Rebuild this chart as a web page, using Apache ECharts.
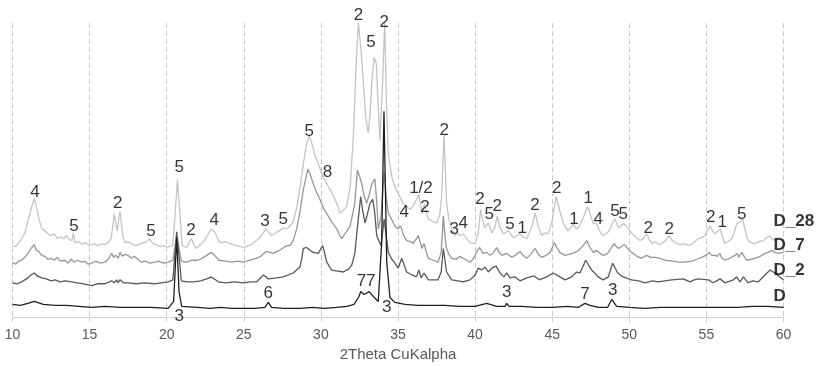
<!DOCTYPE html>
<html>
<head>
<meta charset="utf-8">
<script src="https://cdn.jsdelivr.net/npm/echarts@6/dist/echarts.min.js"></script>
<style>
html,body{margin:0;padding:0;background:#fff;}
#chart{width:822px;height:367px;}
</style>
</head>
<body>
<div id="chart"></div>
<script>
// x tick labels
const xTicks = [10, 15, 20, 25, 30, 35, 40, 45, 50, 55, 60];

// series names (top to bottom)
const seriesNames = ['D_28', 'D_7', 'D_2', 'D'];

// intensity traces (2theta, relative intensity, offset stacked)
const dataD28 = [
[10,73],[10.2,72],[10.4,76],[10.6,80],[10.8,86],[11.0,98],[11.2,110],[11.41,121],[11.55,113],[11.7,101],
[11.9,90],[12.1,88],[12.3,85],[12.5,83],[12.7,85],[12.9,80],[13.1,82],[13.3,80],[13.5,83],[13.7,79],
[13.85,78],[13.95,86],[14.05,76],[14.3,77],[14.5,74],[14.7,76],[15.0,73],[15.3,75],[15.5,73],[15.8,75],
[16.0,74],[16.2,76],[16.4,80],[16.6,105],[16.78,88],[16.97,108],[17.15,83],[17.3,76],[17.5,77],[17.8,74],
[18.0,73],[18.3,75],[18.5,76],[18.7,77],[18.9,80],[19.1,75],[19.3,74],[19.6,72],[19.8,73],[20.0,71],
[20.4,73],[20.7,140],[21.0,73],[21.3,71],[21.6,80],[21.9,70],[22.2,74],[22.4,77],[22.7,85],[22.9,90],[23.1,87],[23.45,76],
[23.8,77],[24.1,75],[24.5,73],[24.8,72],[25.0,71],[25.3,73],[25.5,74],[25.8,78],[26.1,82],[26.44,90],[26.8,83],[27.0,85],[27.2,87],[27.4,89],[27.6,91],[27.8,90],[28.0,93],
[28.2,97],[28.43,111],[28.7,138],[28.86,156],[29.05,175],[29.25,185],[29.4,178],[29.6,166],[29.8,158],[30.05,146],[30.25,140],[30.5,133],[30.8,124],[31.03,116],[31.25,106],
[31.45,109],[31.67,113],[31.9,133],[32.1,183],[32.3,263],[32.43,300],[32.6,273],[32.75,240],[32.9,205],[33.07,188],[33.2,210],[33.3,240],[33.45,265],
[33.6,258],[33.7,220],[33.83,180],[34.0,240],[34.14,301],[34.25,220],[34.37,166],[34.6,143],[34.8,133],[35.02,126],[35.2,120],[35.35,116],[35.6,112],[35.8,110],[36.0,114],[36.2,120],[36.35,125],
[36.55,106],[36.7,115],[36.97,100],[37.2,98],[37.5,96],[37.7,104],[37.83,123],[37.98,187],[38.15,116],[38.3,100],[38.48,90],[38.7,83],[38.85,86],[39.0,83],
[39.23,85],[39.45,80],[39.67,76],[40.0,75],[40.2,85],[40.36,110],[40.5,98],[40.64,91],[40.86,96],[41.08,86],[41.25,90],[41.44,103],[41.6,92],[41.83,85],
[42.15,88],[42.48,81],[42.7,83],[42.91,85],[43.1,82],[43.35,80],[43.7,93],[43.9,106],[44.1,92],[44.32,83],[44.5,86],[44.75,85],[45.0,98],[45.25,123],
[45.5,108],[45.72,96],[46.0,88],[46.2,91],[46.37,95],[46.55,90],[46.7,91],[47.0,101],[47.3,113],[47.5,103],[47.67,95],[47.85,96],[47.99,91],[48.15,86],[48.3,83],
[48.5,85],[48.7,88],[48.9,96],[49.07,100],[49.2,95],[49.33,91],[49.5,94],[49.68,95],[49.9,91],[50.15,86],[50.4,82],[50.7,78],[50.9,80],[51.13,85],[51.3,79],[51.45,75],[51.7,77],[51.9,74],[52.1,75],
[52.35,78],[52.58,83],[52.75,79],[52.96,76],[53.3,74],[53.6,75],[53.83,73],[54.1,75],[54.48,80],[54.7,81],[54.9,83],[55.05,88],[55.23,93],[55.4,88],[55.55,85],[55.7,87],[55.88,90],[56.05,82],[56.2,75],
[56.4,77],[56.64,80],[56.8,86],[56.96,95],[57.15,97],[57.35,100],[57.5,90],[57.7,78],[57.9,76],[58.15,75],[58.4,77],[58.7,78],[58.9,81],[59.08,83],[59.25,80],[59.45,78],[59.7,81],[59.9,80],[60.0,78]
];
const dataD7 = [
[10,56],[10.2,54],[10.4,57],[10.6,58],[10.8,61],[11.0,65],[11.2,70],[11.41,74],[11.55,68],[11.7,67],
[11.9,63],[12.1,62],[12.3,59],[12.5,60],[12.7,58],[12.9,61],[13.1,57],[13.4,58],[13.6,55],[13.8,59],
[14.0,56],[14.2,58],[14.5,56],[14.7,57],[14.9,54],[15.13,55],[15.4,57],[15.7,55],[16.0,56],[16.2,59],
[16.43,65],[16.55,61],[16.7,63],[16.85,60],[16.97,66],[17.1,62],[17.3,64],[17.5,63],[17.7,60],[17.9,62],
[18.05,60],[18.2,58],[18.38,56],[18.6,57],[18.9,55],[19.24,56],[19.5,57],[19.8,55],[20.1,56],[20.4,58],[20.65,83],
[20.95,57],[21.3,56],[21.6,58],[22.0,58],[22.3,60],[22.6,63],[22.9,66],[23.1,63],[23.4,58],[23.8,57],[24.2,56],[24.6,57],[24.97,56],[25.4,58],[25.8,60],[26.1,62],[26.44,67],[26.9,65],[27.3,68],[27.8,73],
[28.0,73],[28.2,78],[28.43,90],[28.65,108],[28.86,130],[29.15,151],[29.3,146],[29.5,136],[29.7,128],[29.94,120],[30.2,110],[30.48,103],[30.75,96],[31.03,90],[31.2,84],[31.35,80],[31.6,86],[31.9,93],
[32.2,116],[32.36,150],[32.5,144],[32.65,136],[32.8,124],[32.97,116],[33.15,126],[33.3,136],[33.5,141],[33.62,118],[33.72,90],[33.9,103],[34.1,148],[34.25,120],[34.37,106],
[34.55,101],[34.7,96],[34.85,92],[35.0,90],[35.17,93],[35.35,84],[35.56,78],[35.8,77],[35.99,75],[36.15,79],[36.32,83],[36.45,76],[36.55,70],[36.69,75],[36.8,68],[36.97,60],[37.3,58],[37.6,56],[37.8,66],
[37.94,103],[38.05,82],[38.15,70],[38.3,64],[38.48,60],[38.8,59],[39.0,62],[39.23,60],[39.45,58],[39.67,56],[39.85,59],[40.0,63],[40.15,68],[40.3,71],[40.5,65],[40.75,66],[40.97,63],
[41.2,66],[41.4,71],[41.55,66],[41.75,63],[42.05,65],[42.2,63],[42.37,61],[42.6,63],[42.91,67],[43.1,63],[43.35,60],[43.6,64],[43.89,70],[44.1,64],[44.32,61],[44.6,63],[44.87,66],[45.14,76],
[45.3,71],[45.5,66],[45.83,63],[46.1,64],[46.48,66],[46.7,68],[46.9,71],[47.05,74],[47.24,78],[47.45,71],[47.67,66],[47.9,68],[48.1,65],[48.3,63],[48.5,64],[48.64,66],[48.85,71],[49.03,75],
[49.15,72],[49.3,70],[49.5,72],[49.68,74],[49.9,70],[50.15,66],[50.5,62],[50.8,60],[51.0,62],[51.13,63],[51.4,61],[51.67,61],[52.0,60],[52.32,58],[52.8,57],[53.18,56],[53.6,56],[54.05,57],[54.4,59],[54.7,61],
[54.95,63],[55.19,66],[55.35,63],[55.55,63],[55.7,62],[55.88,65],[56.0,60],[56.2,58],[56.5,60],[56.86,63],[57.0,65],[57.1,61],[57.3,66],[57.45,62],[57.6,58],[57.9,59],[58.15,60],[58.5,62],[58.8,65],[59.0,66],[59.23,68],
[59.45,66],[59.66,65],[60.0,66]
];
const dataD2 = [
[10,35],[10.3,34],[10.6,36],[10.8,38],[11.0,40],[11.2,43],[11.41,45],[11.6,42],[11.9,40],[12.2,39],
[12.5,37],[12.76,38],[13.1,36],[13.4,37],[13.84,36],[14.2,35],[14.6,34],[15.13,32],[15.5,34],[16.0,34],
[16.3,36],[16.43,37],[16.6,35],[16.76,38],[16.85,35],[16.97,38],[17.2,35],[17.5,35],[18.0,34],[18.6,35],
[19.2,34],[20.1,36],[20.4,38],[20.65,87],[20.95,37],[21.3,36],[21.7,36],[22.2,37],[22.6,39],[22.9,41],
[23.35,36],[23.8,35],[24.4,36],[24.97,35],[25.4,36],[25.84,36],[26.27,43],[26.6,39],[27.1,40],[27.56,41],[28.2,45],[28.64,51],[28.76,60],[28.86,70],
[29.08,71],[29.3,68],[29.5,66],[29.83,65],[30.12,73],[30.38,56],[30.7,48],[31.1,47],[31.45,46],[31.8,49],[32.0,53],[32.2,65],[32.36,90],[32.58,123],
[32.7,110],[32.86,96],[33.0,104],[33.18,116],[33.36,120],[33.5,105],[33.62,83],[33.9,73],[34.1,100],[34.37,66],[34.6,59],[34.8,55],[35.02,50],[35.24,60],
[35.56,46],[35.9,43],[36.2,41],[36.35,48],[36.5,40],[36.69,45],[36.97,38],[37.3,38],[37.6,38],[37.8,46],[37.94,70],[38.15,46],[38.48,38],
[38.9,37],[39.23,36],[39.67,38],[40.0,43],[40.2,50],[40.43,48],[40.64,51],[40.86,46],[41.08,50],[41.36,52],[41.62,45],
[41.87,41],[42.05,45],[42.27,40],[42.59,41],[42.91,37],[43.35,40],[43.82,42],[44.16,38],[44.64,41],[45.07,45],
[45.5,41],[45.83,38],[46.26,41],[46.59,46],[46.8,45],[47.17,58],[47.56,48],[47.99,41],[48.3,38],[48.64,41],
[48.92,55],[49.25,45],[49.6,41],[50.15,38],[50.6,37],[51.02,35],[51.5,37],[51.88,36],[52.3,37],[52.75,38],[53.5,39],[53.94,36],[54.2,38],[54.48,39],
[55.13,38],[55.45,35],[55.88,39],[56.2,35],[56.75,38],[56.96,41],[57.17,36],[57.4,41],[57.7,35],[58.0,37],[58.37,36],
[58.8,43],[59.13,48],[59.45,45],[59.84,40],[60.0,38]
];
const dataD = [
[10,13],[10.5,12],[11.0,14],[11.41,16],[12.0,13],[12.76,12],[13.5,12],[14.3,11],[15.13,10],[16.0,11],[17.0,10],[18.0,10],[19.0,10],[20.1,9],[20.45,16],[20.65,81],
[20.8,26],[20.97,11],[22.0,10],[22.8,9],[23.5,10],[24.2,9],[24.97,9],[25.7,9],[26.37,10],[26.59,15],[26.8,10],[27.6,9],[28.64,9],[29.5,10],[30.2,9],[31.0,10],[31.7,11],[32.15,13],
[32.47,21],[32.58,26],[32.8,23],[33.13,26],[33.4,21],[33.72,16],[33.94,76],[34.09,210],[34.27,56],[34.48,20],
[34.8,15],[35.45,13],[36.3,12],[37.0,12],[38.0,12],[39.0,11],[40.0,11],[40.75,14],[41.4,11],[41.94,11],[42.05,14],[42.2,11],[43.0,11],[44.0,10],
[45.0,10],[46.0,11],[46.7,10],[47.13,14],[47.45,12],[48.0,10],[48.6,10],[48.86,18],[49.18,11],[50.0,10],[51.0,9],[52.0,10],[53.0,10],[54.0,10],[55.0,10],[56.0,10],[57.0,10],[58.0,11],[59.0,11],[60.0,10]
];

// phase annotations: 2theta, height, label
const annoX = [11.46,13.99,16.82,18.98,20.82,21.58,23.09,26.37,27.56,29.25,30.42,32.43,33.25,34.11,35.41,36.49,36.75,38.0,38.65,39.23,
40.32,40.92,41.44,42.26,43.06,43.88,45.29,46.41,47.34,47.99,49.07,49.61,51.23,52.59,55.28,56.03,57.29,
26.59,20.82,32.93,34.27,42.05,47.13,48.92];
const annoY = [127,93,116,88,153,89,99,98,100,190,148,308,280,301,107,131,112,191,90,96,
120,105,113,95,91,114,131,100,121,100,108,105,91,90,102,97,105,
24,1,36,10,25,23,27];
const annoText = ['4','5','2','5','5','2','4','3','5','5','8','2','5','2','4','1/2','2','2','3','4',
'2','5','2','5','1','2','2','1','1','4','5','5','2','2','2','1','5',
'6','3','77','3','3','7','3'];

// series name label anchors
const nameLabelX = [59.35, 59.35, 59.35, 59.35];
const nameLabelY = [98, 73, 48, 21];

const colors = ['#c4c4c4', '#969696', '#595959', '#1f1f1f'];
const traces = [dataD28, dataD7, dataD2, dataD];

const chart = echarts.init(document.getElementById('chart'), null, {renderer: 'canvas'});

const series = traces.map((d, i) => ({
  name: seriesNames[i],
  type: 'line',
  data: d,
  showSymbol: false,
  symbol: 'none',
  clip: false,
  lineStyle: {color: colors[i], width: 1.3},
  z: 2 + i,
  animation: false
}));

series.push({
  type: 'scatter',
  symbolSize: 0,
  clip: false,
  z: 10,
  silent: true,
  animation: false,
  data: annoX.map((x, i) => ({value: [x, annoY[i]], name: annoText[i]})),
  label: {
    show: true,
    position: 'inside',
    formatter: '{b}',
    color: '#000',
    fontFamily: 'Liberation Sans, Arial, sans-serif',
    fontSize: 17
  }
});

series.push({
  type: 'scatter',
  symbolSize: 0,
  clip: false,
  z: 11,
  silent: true,
  animation: false,
  data: nameLabelX.map((x, i) => ({value: [x, nameLabelY[i]], name: seriesNames[i]})),
  label: {
    show: true,
    position: 'right',
    distance: 0,
    formatter: '{b}',
    color: '#000',
    fontWeight: 'bold',
    fontFamily: 'Liberation Sans, Arial, sans-serif',
    fontSize: 17
  }
});

chart.setOption({
  animation: false,
  backgroundColor: '#fff',
  grid: {left: 12.5, right: 38.5, top: 23, bottom: 44, containLabel: false},
  xAxis: {
    type: 'value',
    min: xTicks[0],
    max: xTicks[xTicks.length - 1],
    interval: 5,
    name: '2Theta CuKalpha',
    nameLocation: 'middle',
    nameGap: 27,
    nameTextStyle: {color: '#595959', fontSize: 15, fontFamily: 'Liberation Sans, Arial, sans-serif'},
    axisLine: {show: true, lineStyle: {color: '#d0d0d0', width: 1}},
    axisTick: {show: true, length: 5, lineStyle: {color: '#d0d0d0'}},
    axisLabel: {color: '#595959', fontSize: 14, margin: 11, fontFamily: 'Liberation Sans, Arial, sans-serif'},
    splitLine: {show: true, lineStyle: {color: '#c8c8c8', type: [5, 3], width: 1}}
  },
  yAxis: {
    type: 'value',
    min: 0,
    max: 300,
    show: false,
    splitLine: {show: false}
  },
  series: series
});
</script>
</body>
</html>
